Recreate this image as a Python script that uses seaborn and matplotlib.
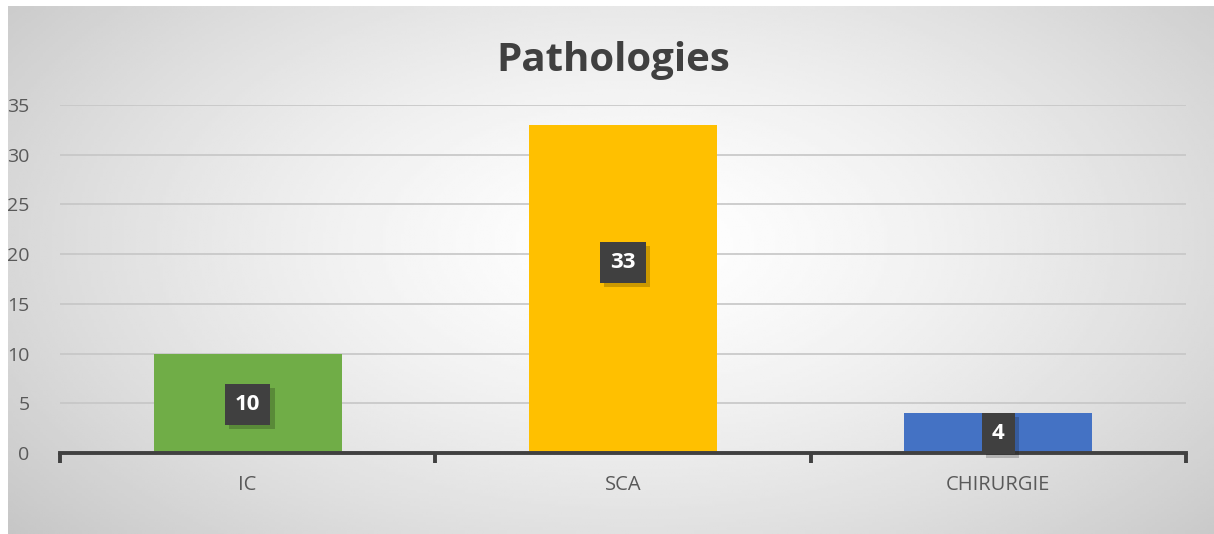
import numpy as np
import pandas as pd
import matplotlib
matplotlib.use("Agg")
import matplotlib.pyplot as plt
import matplotlib.patheffects as pe
import seaborn as sns

categories = ["IC", "SCA", "CHIRURGIE"]
counts = [10, 33, 4]
bar_colors = ["#70ad47", "#ffc000", "#4472c4"]
y_ticks = [0, 5, 10, 15, 20, 25, 30, 35]
title = "Pathologies"

# where the data-label boxes sit (in y units), as placed in the original
label_y = [4.85, 19.2, 1.95]

sns.set_style("white")
plt.rcParams["font.family"] = ["Open Sans", "DejaVu Sans"]

df = pd.DataFrame({"cat": categories, "n": counts})

fig = plt.figure(figsize=(12.14, 5.34), dpi=100)

# radial grey-to-white background
bg = fig.add_axes([8 / 1214, 0, 1 - 8 / 1214, 1 - 6 / 534], zorder=-10)
gx, gy = np.meshgrid(np.linspace(0, 1, 400), np.linspace(0, 1, 200))
r = np.sqrt(((gx - 0.52) / 0.75) ** 2 + ((gy - 0.45) / 0.95) ** 2)
shade = 1 - 0.24 * np.clip(r / 0.95, 0, 1) ** 1.4
bg.imshow(shade, cmap="gray", vmin=0, vmax=1, aspect="auto", extent=[0, 1, 0, 1])
bg.axis("off")

ax = fig.add_axes([60 / 1214, 1 - 453 / 534, (1186 - 60) / 1214, (453 - 105) / 534])
ax.patch.set_alpha(0)
sns.barplot(data=df, x="cat", y="n", hue="cat", palette=bar_colors, width=0.5,
            legend=False, ax=ax, zorder=3, saturation=1, linewidth=0)

ax.set_ylim(0, 35)
ax.set_xlim(-0.5, 2.5)
ax.set_yticks(y_ticks)
ax.yaxis.grid(True, color="#c6c6c6", lw=1.2, zorder=0)
ax.set_axisbelow(True)
for s in ["top", "right", "left"]:
    ax.spines[s].set_visible(False)
ax.spines["bottom"].set_color("#404040")
ax.spines["bottom"].set_linewidth(2.8)
ax.spines["bottom"].set_zorder(5)

ax.tick_params(axis="y", length=0, pad=22, labelsize=14, labelcolor="#595959")
ax.tick_params(axis="x", which="major", length=0, pad=16, labelsize=14.5, labelcolor="#595959")
ax.set_xticks([-0.5, 0.5, 1.5, 2.5], minor=True)
ax.tick_params(axis="x", which="minor", bottom=True, length=7, width=2.8,
               color="#404040", direction="out")
ax.set_xlabel("")
ax.set_ylabel("")

for i, v in enumerate(counts):
    t = ax.text(i, label_y[i], str(v), ha="center", va="center", fontsize=16,
                fontweight="bold", color="white", zorder=7,
                bbox=dict(boxstyle="square,pad=0.45", fc="#404040", ec="none"))
    t.get_bbox_patch().set_path_effects(
        [pe.SimplePatchShadow(offset=(3, -3), shadow_rgbFace="black", alpha=0.2), pe.Normal()])

fig.text(0.505, 1 - 60 / 534, title, ha="center", va="center", fontsize=29,
         fontweight="bold", color="#404040")

fig.savefig("out.png", dpi=100)
